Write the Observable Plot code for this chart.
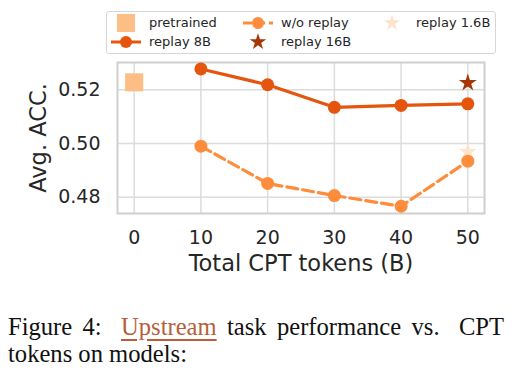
<!DOCTYPE html>
<html>
<head>
<meta charset="utf-8">
<script src="https://cdn.jsdelivr.net/npm/d3@7"></script>
<script src="https://cdn.jsdelivr.net/npm/@observablehq/plot@0.6"></script>
<style>
  html, body { margin: 0; padding: 0; background: #fff; }
  #wrap { position: relative; width: 518px; height: 372px; overflow: hidden; font-family: "DejaVu Sans", sans-serif; }
  #legend { position: absolute; left: 106px; top: 11px; width: 388px; height: 41px; border: 1px solid #d6d6d6; border-radius: 3px; background: rgba(255,255,255,0.85); }
  .li-sw { position: absolute; width: 32px; height: 20px; }
  .li-tx { position: absolute; font-size: 13px; color: #262626; line-height: 16px; white-space: nowrap; }
  .cap { position: absolute; left: 8px; width: 496px; font-family: "Liberation Serif", serif; font-size: 24.6px; line-height: 26.5px; color: #111; white-space: nowrap; }
  #cap1 { top: 314px; display: flex; justify-content: space-between; }
  #cap2 { top: 340.5px; }
  .link { color: #b5603a; text-decoration: underline; text-decoration-thickness: 1.5px; text-underline-offset: 4px; }
  .wide { margin-right: 9px; }
</style>
</head>
<body>
<div id="wrap">
  <div id="chart"></div>
  <div id="legend"></div>
  <div class="cap" id="cap1"><span>Figure</span><span class="wide">4:</span><span class="link">Upstream</span><span>task</span><span>performance</span><span class="wide">vs.</span><span>CPT</span></div>
  <div class="cap" id="cap2"><span>tokens on models:</span></div>
</div>
<script>
// ---- data ----
const xTicks = [0, 10, 20, 30, 40, 50];
const yTicks = [0.48, 0.50, 0.52];
const tokens = [10, 20, 30, 40, 50];
const replay8B = [0.5278, 0.5219, 0.5135, 0.5142, 0.5148];
const woReplay = [0.4990, 0.4851, 0.4806, 0.4766, 0.4934];
const pretrainedX = [0];
const pretrainedY = [0.5228];
const replay16BX = [50];
const replay16BY = [0.5226];
const replay1_6BX = [50];
const replay1_6BY = [0.4969];
const seriesNames = ["pretrained", "w/o replay", "replay 1.6B", "replay 8B", "replay 16B"];
const colors = {
  "pretrained": "#fdbe85",
  "w/o replay": "#fd8d3c",
  "replay 1.6B": "#fde4cb",
  "replay 8B": "#e6550d",
  "replay 16B": "#a63603"
};

const rows8 = tokens.map((t, i) => ({x: t, y: replay8B[i]}));
const rowsWo = tokens.map((t, i) => ({x: t, y: woReplay[i]}));
const rowsPre = pretrainedX.map((t, i) => ({x: t, y: pretrainedY[i]}));
const rows16 = replay16BX.map((t, i) => ({x: t, y: replay16BY[i]}));
const rows16s = replay1_6BX.map((t, i) => ({x: t, y: replay1_6BY[i]}));

const chart = Plot.plot({
  width: 518,
  height: 290,
  marginTop: 62,
  marginBottom: 77,
  marginLeft: 117,
  marginRight: 34,
  style: {fontFamily: "DejaVu Sans", fontSize: "19px", color: "#262626", background: "transparent", overflow: "visible"},
  x: {domain: [-2.5, 52.5]},
  y: {domain: [0.4739, 0.5302]},
  marks: [
    Plot.gridX(xTicks, {stroke: "#dcdcdc", strokeOpacity: 1, strokeWidth: 1.5}),
    Plot.gridY(yTicks, {stroke: "#dcdcdc", strokeOpacity: 1, strokeWidth: 1.5}),
    Plot.frame({stroke: "#cfcfcf", strokeWidth: 2}),
    Plot.axisX({ticks: xTicks, tickSize: 0, tickPadding: 17, label: null, tickFormat: d => String(d)}),
    Plot.axisY({ticks: yTicks, tickSize: 0, tickPadding: 17, label: null, tickFormat: d3.format(".2f")}),
    Plot.text(["Total CPT tokens (B)"], {frameAnchor: "bottom", lineAnchor: "middle", dy: 50, fontSize: 22.5, fill: "#262626"}),
    Plot.text(["Avg. ACC."], {frameAnchor: "left", lineAnchor: "middle", textAnchor: "middle", dx: -79, rotate: -90, fontSize: 22.5, fill: "#262626"}),
    Plot.dot(rowsPre, {x: "x", y: "y", symbol: "square", r: 10.2, fill: colors["pretrained"]}),
    Plot.dot(rows16s, {x: "x", y: "y", symbol: "star", r: 5.6, fill: colors["replay 1.6B"]}),
    Plot.line(rowsWo, {x: "x", y: "y", stroke: colors["w/o replay"], strokeWidth: 3.2, strokeDasharray: "11,5"}),
    Plot.dot(rowsWo, {x: "x", y: "y", r: 6.5, fill: colors["w/o replay"]}),
    Plot.line(rows8, {x: "x", y: "y", stroke: colors["replay 8B"], strokeWidth: 3.2}),
    Plot.dot(rows8, {x: "x", y: "y", r: 6.5, fill: colors["replay 8B"]}),
    Plot.dot(rows16, {x: "x", y: "y", symbol: "star", r: 5.6, fill: colors["replay 16B"]})
  ]
});
document.getElementById("chart").appendChild(chart);

// ---- legend (HTML) ----
const legendItems = [
  {name: "pretrained", kind: "square", cx: 19, cy: 11, tx: 42},
  {name: "w/o replay", kind: "dash", cx: 151, cy: 11, tx: 174},
  {name: "replay 1.6B", kind: "star", cx: 285, cy: 11, tx: 309},
  {name: "replay 8B", kind: "line", cx: 19, cy: 30, tx: 42},
  {name: "replay 16B", kind: "star", cx: 151, cy: 30, tx: 174}
];
const legend = document.getElementById("legend");
const starPath = d3.symbol(d3.symbolStar, Math.PI * 5.2 * 5.2)();
legendItems.forEach(it => {
  const c = colors[it.name];
  let inner = "";
  if (it.kind === "square") inner = `<rect x="7" y="1" width="18" height="18" fill="${c}"/>`;
  else if (it.kind === "star") inner = `<path transform="translate(16,10)" d="${starPath}" fill="${c}"/>`;
  else if (it.kind === "dash") inner = `<line x1="1" x2="31" y1="10" y2="10" stroke="${c}" stroke-width="3" stroke-dasharray="9,4"/><circle cx="16" cy="10" r="6" fill="${c}"/>`;
  else inner = `<line x1="1" x2="31" y1="10" y2="10" stroke="${c}" stroke-width="3"/><circle cx="16" cy="10" r="6" fill="${c}"/>`;
  const sw = document.createElement("div");
  sw.className = "li-sw";
  sw.style.left = (it.cx - 16) + "px";
  sw.style.top = (it.cy - 10) + "px";
  sw.innerHTML = `<svg width="32" height="20">${inner}</svg>`;
  legend.appendChild(sw);
  const tx = document.createElement("div");
  tx.className = "li-tx";
  tx.style.left = it.tx + "px";
  tx.style.top = (it.cy - 8) + "px";
  tx.textContent = it.name;
  legend.appendChild(tx);
});
</script>
</body>
</html>
